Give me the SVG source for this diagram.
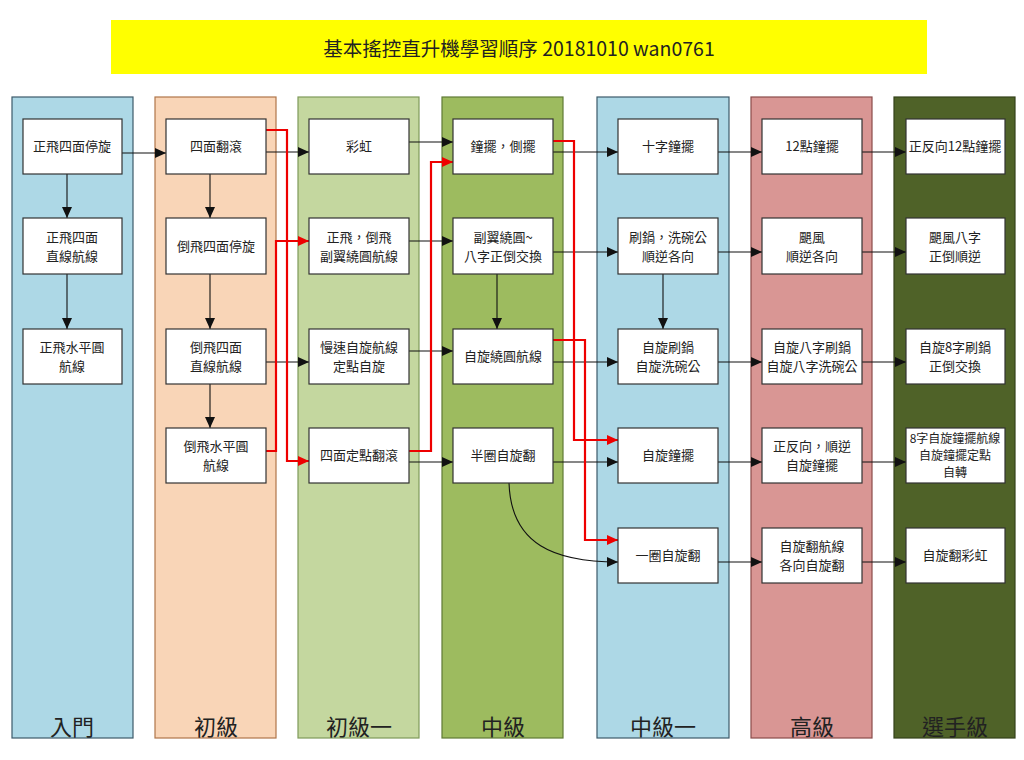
<svg xmlns="http://www.w3.org/2000/svg" width="1024" height="760" viewBox="0 0 1024 760">
<style>
text{font-family:"Noto Sans CJK TC","Noto Sans",sans-serif;fill:#222;text-anchor:middle}
.t{font-size:13px}
.s{font-size:12px}
.lab{font-size:22px}
.title{font-size:19.5px}
.node rect{fill:#fff;stroke:#333;stroke-width:1.2}
.lane{stroke-width:1.2}
.e{fill:none;stroke:#111;stroke-width:1.1}
.r{fill:none;stroke:#e00;stroke-width:2.2}
</style>
<defs>
<marker id="ab" markerUnits="userSpaceOnUse" markerWidth="12" markerHeight="12" refX="11" refY="6" orient="auto"><path d="M0,1 L11,6 L0,11 z" fill="#111"/></marker>
<marker id="ar" markerUnits="userSpaceOnUse" markerWidth="12" markerHeight="12" refX="11" refY="6" orient="auto"><path d="M0,1 L11,6 L0,11 z" fill="#e00"/></marker>
</defs>
<rect x="0" y="0" width="1024" height="760" fill="#fff"/>
<g id="title">
<rect x="111" y="20" width="816" height="54" fill="#ffff00"/>
<text class="title" x="519" y="56">基本搖控直升機學習順序 20181010 wan0761</text>
</g>
<g id="lanes">
<g id="lane-rumen"><rect class="lane" x="12" y="97" width="121" height="641" fill="#add8e6" stroke="#3c5a6a"/><text class="lab" x="72" y="735">入門</text></g>
<g id="lane-chuji"><rect class="lane" x="155" y="97" width="121" height="641" fill="#f9d5b7" stroke="#b0764a"/><text class="lab" x="216" y="735">初級</text></g>
<g id="lane-chuji1"><rect class="lane" x="298" y="97" width="121" height="641" fill="#c4d79f" stroke="#7f9a5a"/><text class="lab" x="359" y="735">初級一</text></g>
<g id="lane-zhongji"><rect class="lane" x="442" y="97" width="121" height="641" fill="#9dbb5f" stroke="#5f7a35"/><text class="lab" x="503" y="735">中級</text></g>
<g id="lane-zhongji1"><rect class="lane" x="597" y="97" width="132" height="641" fill="#add8e6" stroke="#3c5a6a"/><text class="lab" x="663" y="735">中級一</text></g>
<g id="lane-gaoji"><rect class="lane" x="751" y="97" width="121" height="641" fill="#d99694" stroke="#8a4b4a"/><text class="lab" x="812" y="735">高級</text></g>
<g id="lane-xuanshou"><rect class="lane" x="894" y="97" width="121" height="641" fill="#4f6228" stroke="#34421a"/><text class="lab" x="955" y="735">選手級</text></g>
</g>
<g id="connectors">
<path class="e" d="M122,153 H166" marker-end="url(#ab)"/>
<path class="e" d="M67,174 V218" marker-end="url(#ab)"/>
<path class="e" d="M67,274 V329" marker-end="url(#ab)"/>
<path class="e" d="M210,174 V218" marker-end="url(#ab)"/>
<path class="e" d="M210,274 V329" marker-end="url(#ab)"/>
<path class="e" d="M210,384 V428" marker-end="url(#ab)"/>
<path class="e" d="M266,152 H309" marker-end="url(#ab)"/>
<path class="e" d="M266,362 H309" marker-end="url(#ab)"/>
<path class="e" d="M409,142 H453" marker-end="url(#ab)"/>
<path class="e" d="M409,241 H453" marker-end="url(#ab)"/>
<path class="e" d="M409,351 H453" marker-end="url(#ab)"/>
<path class="e" d="M409,462 H453" marker-end="url(#ab)"/>
<path class="e" d="M497,274 V329" marker-end="url(#ab)"/>
<path class="e" d="M553,152 H618" marker-end="url(#ab)"/>
<path class="e" d="M553,252 H618" marker-end="url(#ab)"/>
<path class="e" d="M553,362 H618" marker-end="url(#ab)"/>
<path class="e" d="M553,462 H618" marker-end="url(#ab)"/>
<path class="e" d="M509,483 C511,545 555,562 618,562" marker-end="url(#ab)"/>
<path class="e" d="M663,274 V329" marker-end="url(#ab)"/>
<path class="e" d="M718,152 H762" marker-end="url(#ab)"/>
<path class="e" d="M718,252 H762" marker-end="url(#ab)"/>
<path class="e" d="M718,362 H762" marker-end="url(#ab)"/>
<path class="e" d="M718,462 H762" marker-end="url(#ab)"/>
<path class="e" d="M718,562 H762" marker-end="url(#ab)"/>
<path class="e" d="M862,152 H906" marker-end="url(#ab)"/>
<path class="e" d="M862,252 H906" marker-end="url(#ab)"/>
<path class="e" d="M862,362 H906" marker-end="url(#ab)"/>
<path class="e" d="M862,462 H906" marker-end="url(#ab)"/>
<path class="e" d="M862,562 H906" marker-end="url(#ab)"/>
<path class="r" d="M266,130 H287 V461 H309" marker-end="url(#ar)"/>
<path class="r" d="M266,451 H276 V241 H309" marker-end="url(#ar)"/>
<path class="r" d="M409,451 H431 V162 H453" marker-end="url(#ar)"/>
<path class="r" d="M553,141 H574 V440 H618" marker-end="url(#ar)"/>
<path class="r" d="M553,340 H585 V540 H618" marker-end="url(#ar)"/>
</g>
<g id="n-rumen1" class="node"><rect x="23" y="119" width="99" height="55"/><text class="t" x="72" y="151">正飛四面停旋</text></g>
<g id="n-rumen2" class="node"><rect x="23" y="218" width="99" height="56"/><text class="t" x="72" y="242">正飛四面</text><text class="t" x="72" y="261">直線航線</text></g>
<g id="n-rumen3" class="node"><rect x="23" y="329" width="99" height="55"/><text class="t" x="72" y="352">正飛水平圓</text><text class="t" x="72" y="371">航線</text></g>
<g id="n-chuji1" class="node"><rect x="166" y="119" width="100" height="55"/><text class="t" x="216" y="151">四面翻滾</text></g>
<g id="n-chuji2" class="node"><rect x="166" y="218" width="100" height="56"/><text class="t" x="216" y="251">倒飛四面停旋</text></g>
<g id="n-chuji3" class="node"><rect x="166" y="329" width="100" height="55"/><text class="t" x="216" y="352">倒飛四面</text><text class="t" x="216" y="371">直線航線</text></g>
<g id="n-chuji4" class="node"><rect x="166" y="428" width="100" height="55"/><text class="t" x="216" y="451">倒飛水平圓</text><text class="t" x="216" y="470">航線</text></g>
<g id="n-chuji1a" class="node"><rect x="309" y="119" width="100" height="55"/><text class="t" x="359" y="151">彩虹</text></g>
<g id="n-chuji1b" class="node"><rect x="309" y="218" width="100" height="56"/><text class="t" x="359" y="242">正飛，倒飛</text><text class="t" x="359" y="261">副翼繞圓航線</text></g>
<g id="n-chuji1c" class="node"><rect x="309" y="329" width="100" height="55"/><text class="t" x="359" y="352">慢速自旋航線</text><text class="t" x="359" y="371">定點自旋</text></g>
<g id="n-chuji1d" class="node"><rect x="309" y="428" width="100" height="55"/><text class="t" x="359" y="460">四面定點翻滾</text></g>
<g id="n-zhong1" class="node"><rect x="453" y="119" width="100" height="55"/><text class="t" x="503" y="151">鐘擺，側擺</text></g>
<g id="n-zhong2" class="node"><rect x="453" y="218" width="100" height="56"/><text class="t" x="503" y="242">副翼繞圓~</text><text class="t" x="503" y="261">八字正倒交換</text></g>
<g id="n-zhong3" class="node"><rect x="453" y="329" width="100" height="55"/><text class="t" x="503" y="361">自旋繞圓航線</text></g>
<g id="n-zhong4" class="node"><rect x="453" y="428" width="100" height="55"/><text class="t" x="503" y="460">半圈自旋翻</text></g>
<g id="n-zhong1a" class="node"><rect x="618" y="119" width="100" height="55"/><text class="t" x="668" y="151">十字鐘擺</text></g>
<g id="n-zhong1b" class="node"><rect x="618" y="218" width="100" height="56"/><text class="t" x="668" y="242">刷鍋，洗碗公</text><text class="t" x="668" y="261">順逆各向</text></g>
<g id="n-zhong1c" class="node"><rect x="618" y="329" width="100" height="55"/><text class="t" x="668" y="352">自旋刷鍋</text><text class="t" x="668" y="371">自旋洗碗公</text></g>
<g id="n-zhong1d" class="node"><rect x="618" y="428" width="100" height="55"/><text class="t" x="668" y="460">自旋鐘擺</text></g>
<g id="n-zhong1e" class="node"><rect x="618" y="528" width="100" height="55"/><text class="t" x="668" y="560">一圈自旋翻</text></g>
<g id="n-gao1" class="node"><rect x="762" y="119" width="100" height="55"/><text class="t" x="812" y="151">12點鐘擺</text></g>
<g id="n-gao2" class="node"><rect x="762" y="218" width="100" height="56"/><text class="t" x="812" y="242">颶風</text><text class="t" x="812" y="261">順逆各向</text></g>
<g id="n-gao3" class="node"><rect x="762" y="329" width="100" height="55"/><text class="t" x="812" y="352">自旋八字刷鍋</text><text class="t" x="812" y="371">自旋八字洗碗公</text></g>
<g id="n-gao4" class="node"><rect x="762" y="428" width="100" height="55"/><text class="t" x="812" y="451">正反向，順逆</text><text class="t" x="812" y="470">自旋鐘擺</text></g>
<g id="n-gao5" class="node"><rect x="762" y="528" width="100" height="55"/><text class="t" x="812" y="551">自旋翻航線</text><text class="t" x="812" y="570">各向自旋翻</text></g>
<g id="n-xs1" class="node"><rect x="906" y="119" width="99" height="55"/><text class="t" x="955" y="151">正反向12點鐘擺</text></g>
<g id="n-xs2" class="node"><rect x="906" y="218" width="99" height="56"/><text class="t" x="955" y="242">颶風八字</text><text class="t" x="955" y="261">正倒順逆</text></g>
<g id="n-xs3" class="node"><rect x="906" y="329" width="99" height="55"/><text class="t" x="955" y="352">自旋8字刷鍋</text><text class="t" x="955" y="371">正倒交換</text></g>
<g id="n-xs4" class="node"><rect x="906" y="428" width="99" height="55"/><text class="s" x="955" y="443">8字自旋鐘擺航線</text><text class="s" x="955" y="460">自旋鐘擺定點</text><text class="s" x="955" y="477">自轉</text></g>
<g id="n-xs5" class="node"><rect x="906" y="528" width="99" height="55"/><text class="t" x="955" y="560">自旋翻彩虹</text></g>
</svg>
